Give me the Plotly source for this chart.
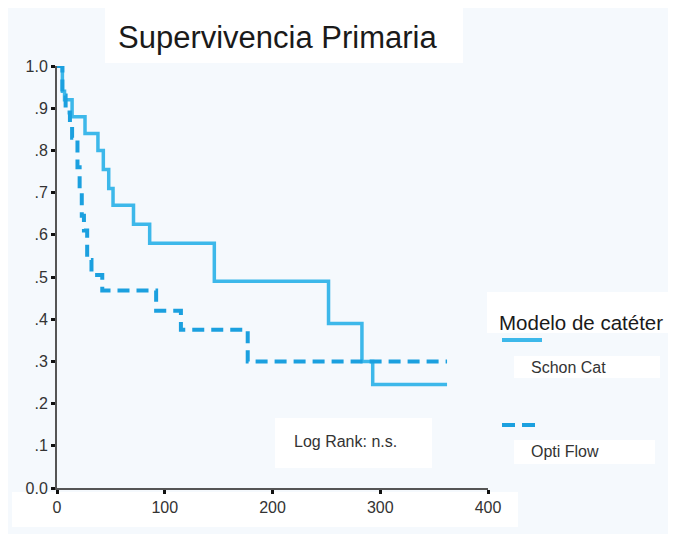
import plotly.graph_objects as go

# ---- data ----
schon_days = [0, 5, 7, 14, 26, 38, 43, 48, 52, 71, 86, 146, 252, 283, 293, 362]
schon_surv = [1.0, 0.94, 0.92, 0.88, 0.84, 0.80, 0.755, 0.71, 0.67, 0.625, 0.58, 0.49, 0.39, 0.30, 0.245, 0.245]

opti_days = [0, 5, 8, 12, 14, 19, 21, 23, 25, 28, 32, 42, 92, 115, 177, 362]
opti_surv = [1.0, 0.93, 0.89, 0.86, 0.83, 0.76, 0.70, 0.645, 0.61, 0.54, 0.505, 0.468, 0.42, 0.375, 0.30, 0.30]

series_names = ["Schon Cat", "Opti Flow"]
legend_title = "Modelo de catéter"
chart_title = "Supervivencia Primaria"
note_text = "Log Rank: n.s."
x_ticks = [0, 100, 200, 300, 400]
y_ticks = [0.0, 0.1, 0.2, 0.3, 0.4, 0.5, 0.6, 0.7, 0.8, 0.9, 1.0]
y_tick_labels = ["0.0", ".1", ".2", ".3", ".4", ".5", ".6", ".7", ".8", ".9", "1.0"]

c_solid = "#3DB8EA"
c_dash = "#1BA0DF"
FONT = "Liberation Sans, Arial, sans-serif"

# page has an 8px body margin; positions below are window pixels
OFF = 8
W, H = 676, 534
PL, PR, PT, PB = 57, 488, 66, 488  # plot area in window pixels

def px(x):
    return (x - PL) / (PR - PL)

def py(y):
    return (PB - y) / (PB - PT)

fig = go.Figure()
fig.add_trace(go.Scatter(x=schon_days, y=schon_surv, mode="lines", line_shape="hv",
                         line=dict(color=c_solid, width=3.5), name=series_names[0],
                         showlegend=False))
fig.add_trace(go.Scatter(x=opti_days, y=opti_surv, mode="lines", line_shape="hv",
                         line=dict(color=c_dash, width=4, dash="12px,7px"), name=series_names[1],
                         showlegend=False))

shapes = []
def white_box(x0, y0, x1, y1):
    shapes.append(dict(type="rect", xref="paper", yref="paper", layer="below",
                       x0=px(x0), x1=px(x1), y0=py(y1), y1=py(y0),
                       fillcolor="white", line=dict(width=0)))

# background boxes
white_box(105, 8, 463, 63)
white_box(12, 492, 518, 527)
white_box(275, 418, 432, 468)
white_box(487, 292, 700, 333)
white_box(514, 356, 660, 378)
white_box(514, 440, 655, 464)

# legend samples
shapes.append(dict(type="line", xref="paper", yref="paper",
                   x0=px(502), x1=px(542), y0=py(340), y1=py(340),
                   line=dict(color=c_solid, width=4)))
shapes.append(dict(type="line", xref="paper", yref="paper",
                   x0=px(502), x1=px(542), y0=py(425), y1=py(425),
                   line=dict(color=c_dash, width=4, dash="13px,7px")))

annotations = [
    dict(text=chart_title, xref="paper", yref="paper", x=px(277), y=py(38),
         showarrow=False, xanchor="center", yanchor="middle",
         font=dict(family=FONT, size=31, color="#1a1a1a")),
    dict(text=note_text, xref="paper", yref="paper", x=px(292), y=py(441),
         showarrow=False, xanchor="left", yanchor="middle",
         font=dict(family=FONT, size=16, color="#333")),
    dict(text=legend_title, xref="paper", yref="paper", x=px(497), y=py(322),
         showarrow=False, xanchor="left", yanchor="middle",
         font=dict(family=FONT, size=20.5, color="#1a1a1a")),
    dict(text=series_names[0], xref="paper", yref="paper", x=px(529), y=py(367),
         showarrow=False, xanchor="left", yanchor="middle",
         font=dict(family=FONT, size=16, color="#333")),
    dict(text=series_names[1], xref="paper", yref="paper", x=px(529), y=py(451),
         showarrow=False, xanchor="left", yanchor="middle",
         font=dict(family=FONT, size=16, color="#333")),
]

fig.update_layout(
    width=W, height=H,
    margin=dict(l=PL - OFF, r=W - (PR - OFF), t=PT - OFF, b=H - (PB - OFF), pad=0),
    paper_bgcolor="#F5F9FD",
    plot_bgcolor="#F5F9FD",
    shapes=shapes,
    annotations=annotations,
    font=dict(family=FONT, size=15, color="#333"),
    xaxis=dict(range=[0, 400], tickvals=x_ticks, showgrid=False, zeroline=False,
               showline=True, linecolor="#555", linewidth=2,
               ticks="outside", ticklen=4, tickwidth=3, tickcolor="#111",
               tickfont=dict(size=16, color="#333")),
    yaxis=dict(range=[0, 1.0], tickvals=y_ticks, ticktext=y_tick_labels,
               showgrid=False, zeroline=False,
               showline=True, linecolor="#555", linewidth=2,
               ticks="outside", ticklen=4, tickwidth=3, tickcolor="#111",
               tickfont=dict(size=16, color="#333")),
)

fig.write_html("out.html")
